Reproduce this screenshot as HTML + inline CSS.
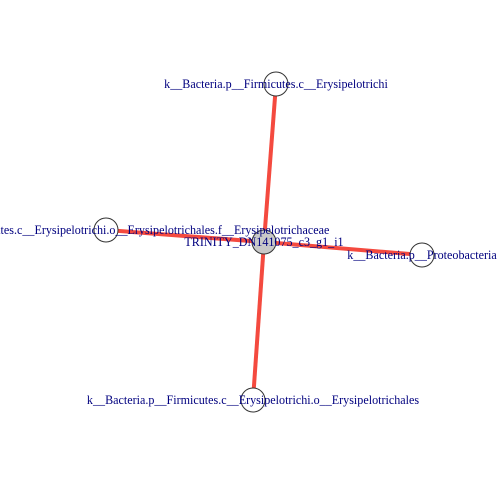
<!DOCTYPE html>
<html><head><meta charset="utf-8"><style>body{margin:0;background:#fff}svg{display:block}text{font-family:"Liberation Serif",serif;font-size:12.1px;fill:#00007f;text-anchor:middle;dominant-baseline:central}</style></head>
<body>
<svg width="500" height="500">
<g id="edges"></g><g id="nodes"></g><g id="labels"></g>
</svg>
<script>
const nodeNames=["TRINITY_DN141075_c3_g1_i1","k__Bacteria.p__Firmicutes.c__Erysipelotrichi","k__Bacteria.p__Firmicutes.c__Erysipelotrichi.o__Erysipelotrichales.f__Erysipelotrichaceae","k__Bacteria.p__Proteobacteria","k__Bacteria.p__Firmicutes.c__Erysipelotrichi.o__Erysipelotrichales"];
const nodeX=[264,276,106,422,253];
const nodeY=[242,84,230,255,400];
const edgeFrom=[0,0,0,0];
const edgeTo=[1,2,3,4];
const ns="http://www.w3.org/2000/svg";
const E=document.getElementById('edges'),N=document.getElementById('nodes'),L=document.getElementById('labels');
edgeFrom.forEach((f,i)=>{const t=edgeTo[i];const l=document.createElementNS(ns,'line');
l.setAttribute('x1',nodeX[f]);l.setAttribute('y1',nodeY[f]);l.setAttribute('x2',nodeX[t]);l.setAttribute('y2',nodeY[t]);
l.setAttribute('stroke','#f44a3f');l.setAttribute('stroke-width','4');


E.appendChild(l);});
nodeNames.forEach((n,i)=>{const c=document.createElementNS(ns,'circle');
c.setAttribute('cx',nodeX[i]);c.setAttribute('cy',nodeY[i]);c.setAttribute('r',12);
c.setAttribute('fill',i===0?'#c8c8c8':'#fff');c.setAttribute('stroke','#333');c.setAttribute('stroke-width','1');


N.appendChild(c);
const t=document.createElementNS(ns,'text');t.setAttribute('x',nodeX[i]);t.setAttribute('y',nodeY[i]);t.textContent=n;


L.appendChild(t);});
</script>
</body></html>
